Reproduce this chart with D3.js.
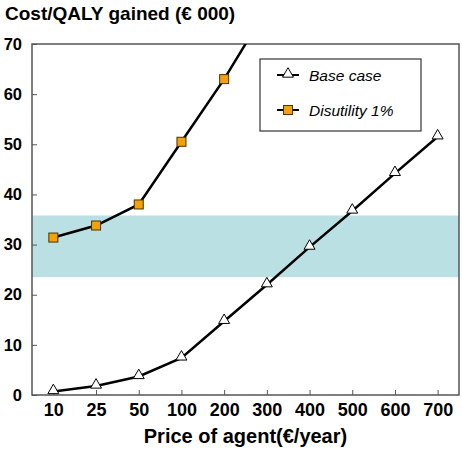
<!DOCTYPE html>
<html><head><meta charset="utf-8">
<script src="https://cdn.jsdelivr.net/npm/d3@7"></script>
<style>body{margin:0;background:#fff}svg{display:block}text{font-family:"Liberation Sans",Arial,sans-serif}</style>
</head><body>
<script>
const categories = ["10","25","50","100","200","300","400","500","600","700"];
const baseCase = [0.7, 1.8, 3.7, 7.4, 14.7, 22.0, 29.5, 36.7, 44.2, 51.5];
const disutility = [31.4, 33.8, 38.0, 50.5, 63.0, 77.0];
const yTicks = [0, 10, 20, 30, 40, 50, 60, 70];
const band = [23.5, 35.8];

const W = 462, H = 459;
const m = {left: 32, right: 3, top: 44, bottom: 64};
const svg = d3.select("body").append("svg").attr("width", W).attr("height", H);

const x = d3.scalePoint().domain(categories).range([m.left, W - m.right]).padding(0.5);
const y = d3.scaleLinear().domain([0, 70]).range([H - m.bottom, m.top]);

svg.append("defs").append("clipPath").attr("id", "clip")
  .append("rect").attr("x", m.left).attr("y", m.top).attr("width", W - m.right - m.left).attr("height", H - m.bottom - m.top);

// band
svg.append("rect").attr("x", m.left).attr("width", W - m.right - m.left)
  .attr("y", y(band[1])).attr("height", y(band[0]) - y(band[1])).attr("fill", "#bbe0e3");

// frame
svg.append("rect").attr("x", m.left).attr("y", m.top).attr("width", W - m.right - m.left).attr("height", H - m.bottom - m.top)
  .attr("fill", "none").attr("stroke", "#555").attr("stroke-width", 1.5);

// y axis
const ya = svg.append("g").attr("transform", `translate(${m.left},0)`)
  .call(d3.axisRight(y).tickValues(yTicks).tickSize(5).tickFormat(d3.format("d")));
ya.select(".domain").remove();
ya.selectAll("line").attr("stroke", "#555");
ya.selectAll("text").attr("x", -10).attr("text-anchor", "end").attr("font-size", 16.5).attr("font-weight", "bold").attr("fill", "#000");

// x axis
const xa = svg.append("g").attr("transform", `translate(0,${H - m.bottom})`)
  .call(d3.axisTop(x).tickSize(5));
xa.select(".domain").remove();
xa.selectAll("line").attr("stroke", "#555");
xa.selectAll("text").attr("y", 8).attr("dy", "0.71em").attr("font-size", 18).attr("font-weight", "bold").attr("fill", "#000");

// title & axis title
svg.append("text").attr("x", 5).attr("y", 20).attr("font-size", 19).attr("font-weight", "bold").text("Cost/QALY gained (€ 000)");
svg.append("text").attr("x", (m.left + W - m.right) / 2).attr("y", 443).attr("text-anchor", "middle")
  .attr("font-size", 20).attr("font-weight", "bold").text("Price of agent(€/year)");

const line = d3.line().x((d, i) => x(categories[i])).y(d => y(d));
const g = svg.append("g").attr("clip-path", "url(#clip)");

g.append("path").datum(disutility).attr("d", line).attr("fill", "none").attr("stroke", "#000").attr("stroke-width", 2.5);
g.append("path").datum(baseCase).attr("d", line).attr("fill", "none").attr("stroke", "#000").attr("stroke-width", 2.5);

const tri = d3.symbol().type(d3.symbolTriangle).size(52);
g.selectAll(".tri").data(baseCase).join("path")
  .attr("transform", (d, i) => `translate(${x(categories[i])},${y(d) - 1})`)
  .attr("d", tri).attr("fill", "#fff").attr("stroke", "#000").attr("stroke-width", 1);
g.selectAll(".sq").data(disutility).join("rect")
  .attr("x", (d, i) => x(categories[i]) - 4.5).attr("y", d => y(d) - 4.5).attr("width", 9).attr("height", 9)
  .attr("fill", "#f5a10a").attr("stroke", "#4a3300").attr("stroke-width", 1);

// legend
const lg = svg.append("g");
lg.append("rect").attr("x", 260).attr("y", 59).attr("width", 161).attr("height", 72)
  .attr("fill", "#fff").attr("stroke", "#333").attr("stroke-width", 1.2);
const items = [{label: "Base case", type: "tri", yy: 75}, {label: "Disutility 1%", type: "sq", yy: 110}];
items.forEach(it => {
  lg.append("line").attr("x1", 277).attr("x2", 299).attr("y1", it.yy).attr("y2", it.yy).attr("stroke", "#000").attr("stroke-width", 2);
  if (it.type === "tri") {
    lg.append("path").attr("transform", `translate(288,${it.yy - 1})`).attr("d", tri).attr("fill", "#fff").attr("stroke", "#000");
  } else {
    lg.append("rect").attr("x", 283.5).attr("y", it.yy - 4.5).attr("width", 9).attr("height", 9).attr("fill", "#f5a10a").attr("stroke", "#4a3300");
  }
  lg.append("text").attr("x", 309).attr("y", it.yy + 5.5).attr("font-size", 15.5).attr("font-style", "italic").text(it.label);
});
</script>
</body></html>
